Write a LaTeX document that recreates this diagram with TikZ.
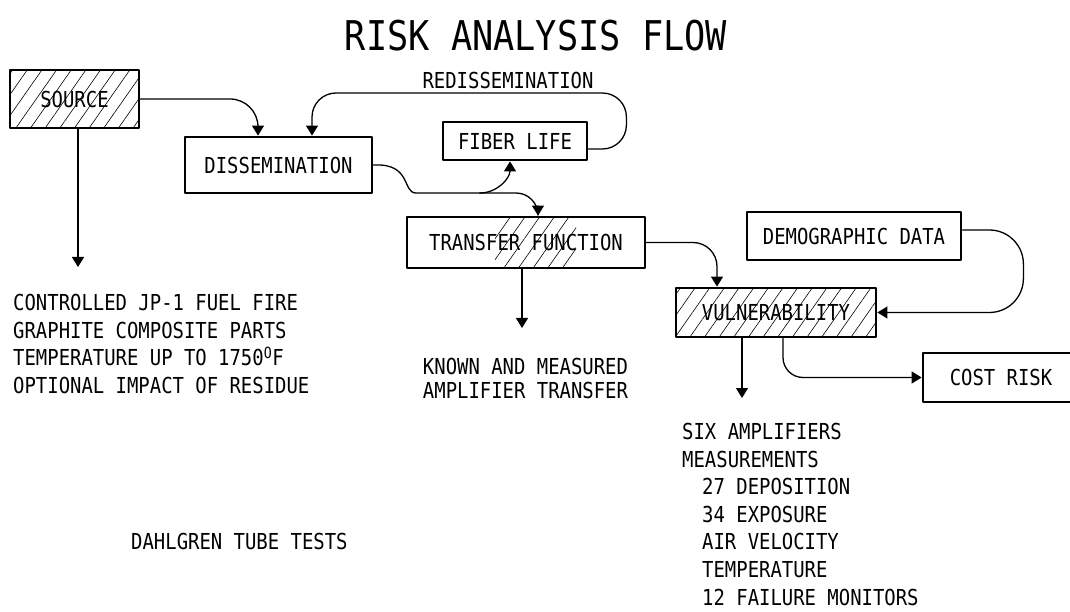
\documentclass[tikz,border=0pt]{standalone}
\usepackage{fontspec}
\setmonofont{DejaVu Sans Mono}[FakeStretch=0.86]
\usetikzlibrary{arrows.meta,patterns.meta}
\begin{document}
\begin{tikzpicture}[x=1pt, y=1pt, line join=round, line cap=round,
  font=\ttfamily\fontsize{22}{27.6}\selectfont,
  >={Triangle[length=10pt,width=12pt]},
  box/.style={draw, line width=2.8pt, inner sep=0pt},
  hatch/.style={pattern={Lines[angle=55,distance=12pt,line width=0.6pt]}},
  conn/.style={line width=1.3pt, rounded corners=24pt},
  note/.style={align=left, inner sep=0pt}]
\useasboundingbox (0,0) rectangle (1070,611);
\clip (0,0) rectangle (1070,611);
\node (title) at (536,575) {\fontsize{41}{41}\selectfont RISK ANALYSIS FLOW};
% boxes
\node[box, hatch, minimum width=129pt, minimum height=58pt] (source) at (74.5,512) {SOURCE};
\node[box, minimum width=187pt, minimum height=56pt] (diss) at (278.5,446) {DISSEMINATION};
\node[box, minimum width=144pt, minimum height=38pt] (fiber) at (515,470) {FIBER LIFE};
\path[hatch] (495,343) rectangle (576,394);
\node[box, minimum width=238pt, minimum height=51pt] (trans) at (526,368.5) {TRANSFER FUNCTION};
\node[box, minimum width=214pt, minimum height=48pt] (demo) at (854,375) {DEMOGRAPHIC DATA};
\node[box, hatch, minimum width=200pt, minimum height=49pt] (vuln) at (776,298.5) {VULNERABILITY};
\node[box, minimum width=156pt, minimum height=49pt] (cost) at (1001,233.5) {COST RISK};
% texts
\node (redis) at (508,531) {REDISSEMINATION};
\node[note, anchor=north west] (fire) at (13,317) {CONTROLLED JP-1 FUEL FIRE\\GRAPHITE COMPOSITE PARTS\\TEMPERATURE UP TO 1750\textsuperscript{O}F\\OPTIONAL IMPACT OF RESIDUE};
\node[note, align=center, font=\ttfamily\fontsize{22}{23.3}\selectfont] (known) at (525.5,232.5) {KNOWN AND MEASURED\\AMPLIFIER TRANSFER};
\node[note, anchor=north west] (amps) at (682,188) {SIX AMPLIFIERS\\MEASUREMENTS\\\hspace*{20pt}27 DEPOSITION\\\hspace*{20pt}34 EXPOSURE\\\hspace*{20pt}AIR VELOCITY\\\hspace*{20pt}TEMPERATURE\\\hspace*{20pt}12 FAILURE MONITORS};
\node[note, anchor=west] (tube) at (131,70) {DAHLGREN TUBE TESTS};
% free ends
\coordinate (srcend) at (78,344);
\coordinate (trend) at (522,283);
\coordinate (vuend) at (742,213);
\coordinate (split) at (480,418);
% connectors
\draw[conn,->,rounded corners=28pt] (source.east) -| ([xshift=-20.5pt]diss.north);
\draw[conn,->] (srcend |- source.south) -- (srcend);
\draw[conn,->] ([yshift=-8pt]fiber.east) -- ++(38,0) |- ([xshift=33.5pt]diss.north |- 0,518) -- ([xshift=33.5pt]diss.north);
\draw[conn] (diss.east) .. controls (412,448) and (402,418) .. (440,418) -- (split);
\draw[conn,->] (split) to[out=0,in=-90] ([xshift=-5pt]fiber.south);
\draw[conn,->,rounded corners=22pt] (split) -| ([xshift=12pt]trans.north);
\draw[conn,->] (trend |- trans.south) -- (trend);
\draw[conn,->] (trans.east) -| ([xshift=-59pt]vuln.north);
\draw[conn,->,rounded corners=34pt] ([yshift=6pt]demo.east) -- ++(61,0) |- (vuln.east);
\draw[conn,->,rounded corners=20pt] (vuend |- vuln.south) -- (vuend);
\draw[conn,->,rounded corners=20pt] ([xshift=7pt]vuln.south) |- (cost.west);
\end{tikzpicture}
\end{document}
